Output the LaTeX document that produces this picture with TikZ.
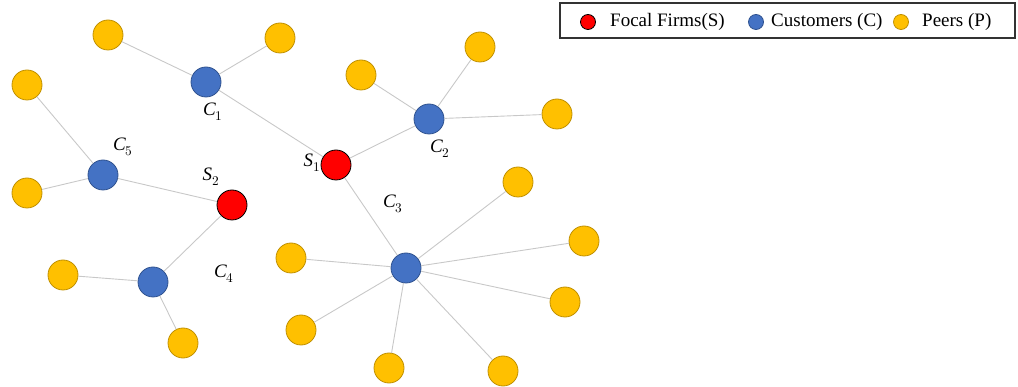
\documentclass[tikz,border=0pt]{standalone}
\usepackage{fontspec}
\setmainfont{Liberation Serif}
\usepackage{unicode-math}
\setmathfont{Latin Modern Math}
\setmathfont[range=it]{Liberation Serif Italic}
\begin{document}
\begin{tikzpicture}[x=1pt,y=-1pt,
  peer/.style={circle,fill=peerY,draw=peerYD,line width=0.8pt,minimum size=30pt,inner sep=0pt},
  cust/.style={circle,fill=custB,draw=custBD,line width=0.8pt,minimum size=30pt,inner sep=0pt},
  focal/.style={circle,fill=red,draw=black,line width=0.8pt,minimum size=30pt,inner sep=0pt},
  lpeer/.style={peer,minimum size=15pt},
  lcust/.style={cust,minimum size=15pt},
  lfocal/.style={focal,minimum size=15pt},
  lab/.style={font=\fontsize{19}{22}\selectfont,inner sep=0pt},
  edge/.style={draw=edgeG,line width=0.9pt}]
\definecolor{peerY}{HTML}{FFC000}
\definecolor{peerYD}{HTML}{C09000}
\definecolor{custB}{HTML}{4472C4}
\definecolor{custBD}{HTML}{2F528F}
\definecolor{edgeG}{HTML}{C8C8C8}
\useasboundingbox (0,0) rectangle (1018,387);
% edges drawn first via coordinates of nodes defined below
\node[peer] (p1) at (108,35) {};
\node[peer] (p2) at (280,38) {};
\node[peer] (p3) at (27,85) {};
\node[peer] (p4) at (361,75) {};
\node[peer] (p5) at (480,47) {};
\node[peer] (p6) at (557,114) {};
\node[peer] (p7) at (27,193) {};
\node[peer] (p8) at (518,182) {};
\node[peer] (p9) at (584,241) {};
\node[peer] (p10) at (291,258) {};
\node[peer] (p11) at (63,275) {};
\node[peer] (p12) at (565,302) {};
\node[peer] (p13) at (301,330) {};
\node[peer] (p14) at (183,343) {};
\node[peer] (p15) at (389,368) {};
\node[peer] (p16) at (503,371) {};
\node[cust] (c1) at (206,82) {};
\node[cust] (c2) at (429,119) {};
\node[cust] (c3) at (406,268) {};
\node[cust] (c4) at (153,282) {};
\node[cust] (c5) at (103,175) {};
\node[focal] (s1) at (336,165) {};
\node[focal] (s2) at (232,205) {};
\foreach \a/\b in {c1/p1,c1/p2,c1/s1,c2/s1,c2/p4,c2/p5,c2/p6,c5/p3,c5/p7,c5/s2,s2/c4,c4/p11,c4/p14,s1/c3,c3/p8,c3/p9,c3/p12,c3/p16,c3/p15,c3/p13,c3/p10}
  \draw[edge] (\a) -- (\b);
% labels
\node[lab] (l1) at (213,112) {$C_1$};
\node[lab] (l2) at (440,149) {$C_2$};
\node[lab] (l3) at (393,204) {$C_3$};
\node[lab] (l4) at (224,274) {$C_4$};
\node[lab] (l5) at (123,147) {$C_5$};
\node[lab] (ls1) at (312,163) {$S_1$};
\node[lab] (ls2) at (211,177) {$S_2$};
% legend
\node[draw=black!80,line width=1.2pt,minimum width=455pt,minimum height=35pt,inner sep=0pt] (leg) at (787.5,20.5) {};
\node[lfocal] (lf) at (588,22) {};
\node[lab,anchor=west] (lft) at (610,22) {Focal Firms(S)};
\node[lcust] (lc) at (756,22) {};
\node[lab,anchor=west] (lct) at (771,22) {Customers (C)};
\node[lpeer] (lp) at (901,22) {};
\node[lab,anchor=west] (lpt) at (922,22) {Peers (P)};
\end{tikzpicture}
\end{document}
